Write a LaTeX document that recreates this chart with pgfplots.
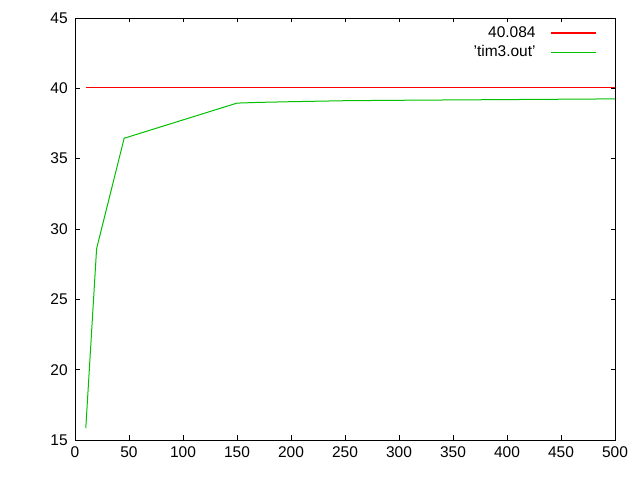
\documentclass[border=0pt]{standalone}
\usepackage{xcolor}
\usepackage{pgfplots}
\pgfplotsset{compat=1.18}
\usepackage{fontspec}
\setmainfont{Liberation Sans}
\definecolor{ggreen}{RGB}{0,192,0}
\definecolor{gred}{RGB}{255,0,0}
\begin{document}
\fontsize{15.5bp}{18bp}\selectfont
\begin{tikzpicture}
\path[use as bounding box] (0,0) rectangle (640bp,480bp);
\begin{axis}[
  at={(75bp,40bp)}, anchor=south west,
  width=540bp, height=422bp, scale only axis,
  clip=false,
  xmin=0, xmax=500, ymin=15, ymax=45,
  xtick={0,50,...,500}, ytick={15,20,...,45},
  tick align=inside, major tick length=4.5bp,
  tick style={black, line width=0.8bp},
  axis line style={black, line width=0.8bp},
  /pgf/number format/assume math mode=true,
  ticklabel style={font=\fontsize{15.5bp}{18bp}\selectfont},
  xticklabel style={yshift=-1bp},
  yticklabel style={xshift=-2bp},
  legend cell align=right,
  legend plot pos=right,
  legend style={draw=none, fill=none, at={(0.972,0.99)}, anchor=north east,
    font=\fontsize{15.5bp}{18bp}\selectfont, row sep=2bp},
  legend image code/.code={\path (0bp,0bp); \draw[#1] (13bp,0bp) -- (58bp,0bp);},
]
\addplot[draw=gred, line width=1.1bp] table {
x y
10 40.084
500 40.084
};
\addlegendentry{40.084}
\addplot[draw=ggreen, line width=1bp] coordinates {
(10,15.85) (20,28.6) (45.5,36.45) (150,38.95) (170,39.0) (200,39.05) (250,39.12) (300,39.15) (400,39.2) (500,39.25)};
\addlegendentry{'tim3.out'}
\end{axis}
\end{tikzpicture}
\end{document}
